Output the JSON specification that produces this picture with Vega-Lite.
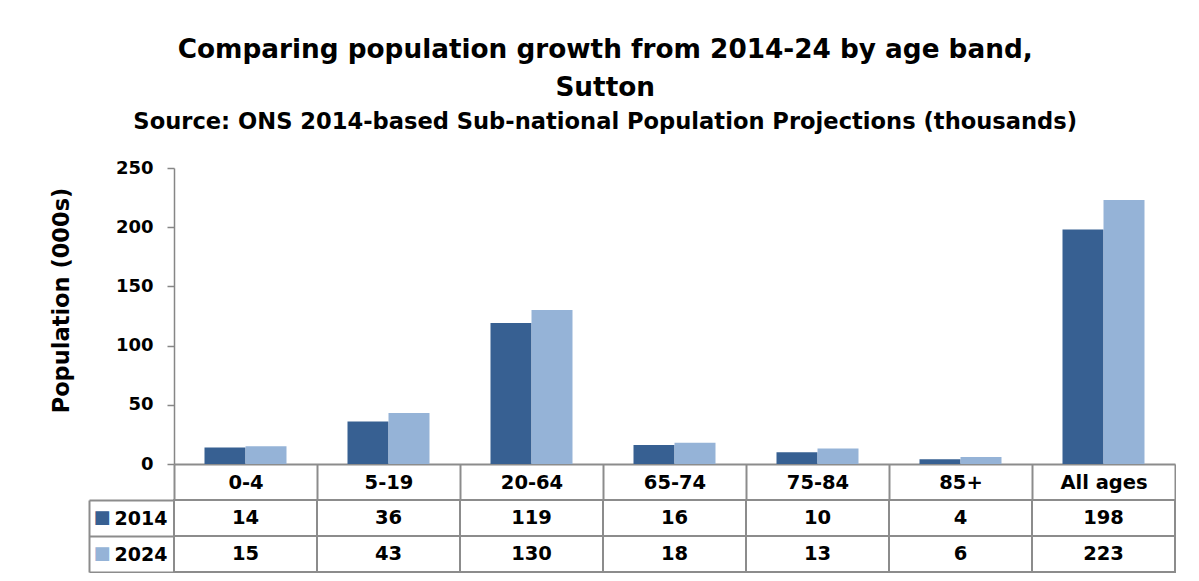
{
  "$schema": "https://vega.github.io/schema/vega-lite/v6.json",
  "autosize": {"type": "pad"},
  "padding": {"left": 50, "top": 37, "right": 0, "bottom": 0},
  "background": "white",
  "config": {"view": {"stroke": null}, "font": "DejaVu Sans"},
  "title": {
    "text": ["Comparing population growth from 2014-24 by age band,", "Sutton"],
    "subtitle": "Source: ONS 2014-based Sub-national Population Projections (thousands)",
    "font": "DejaVu Sans", "fontSize": 26.3, "fontWeight": "bold", "color": "black", "lineHeight": 38,
    "subtitleFont": "DejaVu Sans", "subtitleFontSize": 22.6, "subtitleFontWeight": "bold", "subtitleColor": "black",
    "subtitlePadding": 10, "anchor": "middle", "frame": "bounds", "offset": 25, "dx": -8
  },
  "datasets": {
    "pop": [
      {"age": "0-4", "year": "2014", "pop": 14},
      {"age": "0-4", "year": "2024", "pop": 15},
      {"age": "5-19", "year": "2014", "pop": 36},
      {"age": "5-19", "year": "2024", "pop": 43},
      {"age": "20-64", "year": "2014", "pop": 119},
      {"age": "20-64", "year": "2024", "pop": 130},
      {"age": "65-74", "year": "2014", "pop": 16},
      {"age": "65-74", "year": "2024", "pop": 18},
      {"age": "75-84", "year": "2014", "pop": 10},
      {"age": "75-84", "year": "2024", "pop": 13},
      {"age": "85+", "year": "2014", "pop": 4},
      {"age": "85+", "year": "2024", "pop": 6},
      {"age": "All ages", "year": "2014", "pop": 198},
      {"age": "All ages", "year": "2024", "pop": 223}
    ]
  },
  "spacing": 36,
  "bounds": "flush",
  "vconcat": [
    {
      "width": 1001,
      "height": 296,
      "data": {"name": "pop"},
      "mark": {"type": "bar"},
      "encoding": {
        "x": {
          "field": "age", "type": "nominal",
          "sort": ["0-4", "5-19", "20-64", "65-74", "75-84", "85+", "All ages"],
          "scale": {"paddingInner": 0, "paddingOuter": 0},
          "axis": {
            "title": null, "labelAngle": 0, "domainColor": "#8c8c8c", "domainWidth": 2,
            "tickColor": "#8c8c8c", "tickWidth": 2, "tickSize": 36, "tickBand": "extent",
            "labelFont": "DejaVu Sans", "labelFontSize": 19.5, "labelFontWeight": "bold", "labelColor": "black",
            "labelBaseline": "middle", "labelPadding": -18
          }
        },
        "xOffset": {"field": "year", "type": "nominal", "scale": {"paddingInner": 0, "paddingOuter": 0.744}},
        "y": {
          "field": "pop", "type": "quantitative",
          "scale": {"domain": [0, 250], "nice": false},
          "axis": {
            "values": [0, 50, 100, 150, 200, 250], "grid": false,
            "domainColor": "#868686", "domainWidth": 1.5, "tickColor": "#868686", "tickWidth": 1.5, "tickSize": 7,
            "labelFont": "DejaVu Sans", "labelFontSize": 18, "labelFontWeight": "bold", "labelColor": "black", "labelPadding": 14,
            "title": "Population (000s)", "titleFont": "DejaVu Sans", "titleFontSize": 22.5, "titleFontWeight": "bold",
            "titleColor": "black", "titlePadding": 42, "titleY": 132
          }
        },
        "color": {
          "field": "year", "type": "nominal",
          "scale": {"domain": ["2014", "2024"], "range": ["#376092", "#95b3d7"]},
          "legend": null
        }
      }
    },
    {
      "width": 1001,
      "height": 72,
      "data": {"name": "pop"},
      "encoding": {
        "x": {
          "field": "age", "type": "nominal",
          "sort": ["0-4", "5-19", "20-64", "65-74", "75-84", "85+", "All ages"],
          "scale": {"paddingInner": 0, "paddingOuter": 0},
          "axis": null
        }
      },
      "layer": [
        {
          "mark": {"type": "rect", "fill": "white", "stroke": "#8c8c8c", "strokeWidth": 2},
          "encoding": {
            "y": {
              "field": "year", "type": "nominal",
              "scale": {"domain": ["2014", "2024"], "paddingInner": 0, "paddingOuter": 0},
              "axis": {
                "orient": "left", "title": null, "domain": false,
                "tickBand": "extent", "tickSize": 85, "tickColor": "#8c8c8c", "tickWidth": 2,
                "labelFont": "DejaVu Sans", "labelFontSize": 19, "labelFontWeight": "bold", "labelColor": "black",
                "labelPadding": -78
              }
            }
          }
        },
        {
          "mark": {"type": "text", "font": "DejaVu Sans", "fontSize": 19.5, "fontWeight": "bold", "color": "black"},
          "encoding": {
            "text": {"field": "pop", "type": "quantitative"},
            "y": {
              "field": "year", "type": "nominal",
              "scale": {"domain": ["2014", "2024"], "paddingInner": 0, "paddingOuter": 0},
              "axis": {
                "orient": "left", "offset": 85, "title": null,
                "domain": true, "domainColor": "#8c8c8c", "domainWidth": 2, "ticks": false,
                "labelExpr": "'■'", "labelFont": "DejaVu Sans", "labelFontSize": 18, "labelPadding": -21,
                "labelColor": {"condition": {"test": "datum.value == '2014'", "value": "#376092"}, "value": "#95b3d7"}
              }
            }
          }
        }
      ],
      "resolve": {"axis": {"y": "independent"}}
    }
  ]
}
